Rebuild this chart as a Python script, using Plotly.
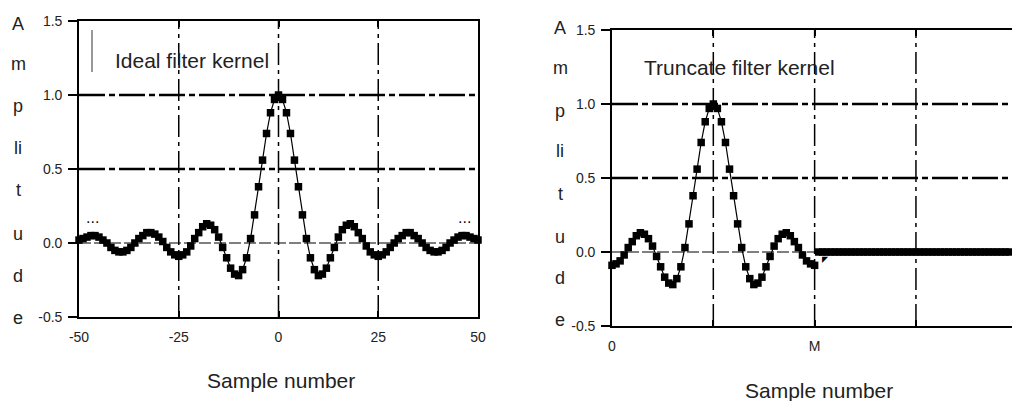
import plotly.graph_objects as go

# ---------------- data ----------------
ideal_x = list(range(-50, 51))
ideal_y = [0.02, 0.03, 0.04, 0.05, 0.05, 0.04, 0.02, 0.00, -0.03, -0.05,
           -0.06, -0.06, -0.05, -0.03, 0.00, 0.03, 0.05, 0.07, 0.07, 0.06,
           0.04, 0.01, -0.03, -0.06, -0.08, -0.09, -0.08, -0.06, -0.02, 0.03,
           0.07, 0.11, 0.13, 0.12, 0.09, 0.04, -0.03, -0.10, -0.17, -0.21,
           -0.22, -0.18, -0.10, 0.03, 0.19, 0.38, 0.56, 0.74, 0.88, 0.97,
           1.00,
           0.97, 0.88, 0.74, 0.56, 0.38, 0.19, 0.03, -0.10, -0.18, -0.22,
           -0.21, -0.17, -0.10, -0.03, 0.04, 0.09, 0.12, 0.13, 0.11, 0.07,
           0.03, -0.02, -0.06, -0.08, -0.09, -0.08, -0.06, -0.03, 0.00, 0.03,
           0.05, 0.07, 0.07, 0.05, 0.03, 0.00, -0.03, -0.05, -0.06, -0.06,
           -0.05, -0.03, 0.00, 0.02, 0.04, 0.05, 0.05, 0.04, 0.03, 0.02]

trunc_x = list(range(0, 51))
trunc_y = [-0.09, -0.08, -0.06, -0.02, 0.03, 0.07, 0.11, 0.13, 0.12, 0.09,
           0.04, -0.03, -0.10, -0.17, -0.21, -0.22, -0.18, -0.10, 0.03, 0.19,
           0.38, 0.56, 0.74, 0.88, 0.97, 1.00, 0.97, 0.88, 0.74, 0.56,
           0.38, 0.19, 0.03, -0.10, -0.18, -0.22, -0.21, -0.17, -0.10, -0.03,
           0.04, 0.09, 0.12, 0.13, 0.11, 0.07, 0.03, -0.02, -0.06, -0.08,
           -0.09]

zero_x = list(range(51, 101))
zero_y = [0, 0, 0, 0, 0, 0, 0, 0, 0, 0,
          0, 0, 0, 0, 0, 0, 0, 0, 0, 0,
          0, 0, 0, 0, 0, 0, 0, 0, 0, 0,
          0, 0, 0, 0, 0, 0, 0, 0, 0, 0,
          0, 0, 0, 0, 0, 0, 0, 0, 0, 0]

y_tickvals = [-0.5, 0.0, 0.5, 1.0, 1.5]
y_ticktext = ["-0.5", "0.0", "0.5", "1.0", "1.5"]
left_xticks = [-50, -25, 0, 25, 50]
left_xtext = ["-50", "-25", "0", "25", "50"]
right_xticks = [0, 25, 50, 75]
right_xtext = ["0", "", "M", ""]
ylabel_letters = ["A", "m", "p", "li", "t", "u", "d", "e"]

# ---------------- figure ----------------
W, H = 1012, 401
def px(x):
    return x / W
def py(y):
    return 1 - y / H

mk = dict(symbol="square", size=7.5, color="black", line=dict(width=0))
fig = go.Figure()
fig.add_trace(go.Scatter(x=ideal_x, y=ideal_y, mode="lines+markers",
                         line=dict(color="black", width=1.2), marker=mk,
                         xaxis="x", yaxis="y", cliponaxis=False))
fig.add_trace(go.Scatter(x=trunc_x, y=trunc_y, mode="lines+markers",
                         line=dict(color="black", width=1.2), marker=mk,
                         xaxis="x2", yaxis="y2", cliponaxis=False))
fig.add_trace(go.Scatter(x=zero_x, y=zero_y, mode="lines+markers",
                         line=dict(color="black", width=1), marker=mk,
                         xaxis="x2", yaxis="y2", cliponaxis=True))

tickfont = dict(family="Liberation Sans", size=14, color="#222222")
common_x = dict(ticks="inside", ticklen=6, tickwidth=1.5, tickcolor="black",
                showline=True, linewidth=1.6, linecolor="black", mirror="ticks",
                showgrid=False, zeroline=False, tickfont=tickfont,
                ticklabelstandoff=6, automargin=False)
common_y = dict(ticks="outside", ticklen=9, tickwidth=1.5, tickcolor="black",
                showline=True, linewidth=1.6, linecolor="black",
                showgrid=False, zeroline=False, tickfont=tickfont,
                range=[-0.5, 1.5], tickvals=y_tickvals, ticktext=y_ticktext,
                ticklabelstandoff=3, automargin=False)

fig.update_layout(
    width=W, height=H, margin=dict(l=0, r=0, t=0, b=0, pad=0, autoexpand=False),
    paper_bgcolor="white", plot_bgcolor="white", showlegend=False,
    xaxis=dict(domain=[px(79), px(478)], range=[-50, 50], anchor="y",
               tickvals=left_xticks, ticktext=left_xtext, **common_x),
    yaxis=dict(domain=[py(317), py(21)], anchor="x", mirror=True, **common_y),
    xaxis2=dict(domain=[px(612), 1.0], range=[0, 98.7], anchor="y2",
                tickvals=right_xticks, ticktext=right_xtext, **common_x),
    yaxis2=dict(domain=[py(326), py(30)], anchor="x2", mirror=False, **common_y),
)

thick_dd = dict(color="black", width=2.5, dash="26px,4px,6px,4px")
vert_dd = dict(color="black", width=1.5, dash="22px,5px,4px,5px")
zero_ln = dict(color="black", width=1, dash="12px,3px")

shapes = []
for xr, yr, vx in (("x", "y", [-25, 0, 25]), ("x2", "y2", [25, 50, 75])):
    for yv in (1.0, 0.5):
        shapes.append(dict(type="line", xref=xr + " domain", yref=yr, x0=0, x1=1,
                           y0=yv, y1=yv, line=thick_dd, layer="below"))
    shapes.append(dict(type="line", xref=xr + " domain", yref=yr, x0=0, x1=1,
                       y0=0, y1=0, line=zero_ln, layer="below"))
    for xv in vx:
        shapes.append(dict(type="line", xref=xr, yref=yr + " domain", x0=xv, x1=xv,
                           y0=0, y1=1, line=vert_dd, layer="below"))
# legend-like bar next to the left caption
shapes.append(dict(type="line", xref="paper", yref="paper", x0=px(92), x1=px(92),
                   y0=py(30), y1=py(72), line=dict(color="#555555", width=1.2)))
fig.update_layout(shapes=shapes)

txt = dict(family="Liberation Sans", size=21, color="#222222")
ann = [
    dict(text="Ideal filter kernel", x=px(113), y=py(61), xanchor="left", yanchor="middle"),
    dict(text="Truncate filter kernel", x=px(642), y=py(67), xanchor="left", yanchor="middle"),
    dict(text="Sample number", x=px(281), y=py(380), xanchor="center", yanchor="middle"),
    dict(text="Sample number", x=px(819), y=py(390), xanchor="center", yanchor="middle"),
]
for a in ann:
    a.update(xref="paper", yref="paper", showarrow=False, font=txt)

left_letter_y = [24, 64, 106, 148, 190, 234, 276, 318]
right_letter_y = [28, 68, 111, 151, 194, 237, 278, 320]
for ch, yl, yr in zip(ylabel_letters, left_letter_y, right_letter_y):
    ann.append(dict(text=ch, x=px(18), y=py(yl), xref="paper", yref="paper",
                    showarrow=False, xanchor="center", yanchor="middle",
                    font=dict(family="Liberation Sans", size=18, color="#222222")))
    ann.append(dict(text=ch, x=px(560), y=py(yr), xref="paper", yref="paper",
                    showarrow=False, xanchor="center", yanchor="middle",
                    font=dict(family="Liberation Sans", size=18, color="#222222")))

# small continuation marks
ann.append(dict(text="···", x=-46.5, y=0.14, xref="x", yref="y", showarrow=False,
                font=dict(family="DejaVu Sans", size=14, color="black")))
ann.append(dict(text="···", x=46.5, y=0.14, xref="x", yref="y", showarrow=False,
                font=dict(family="DejaVu Sans", size=14, color="black")))
ann.append(dict(text="◤", x=52.8, y=-0.05, xref="x2", yref="y2", showarrow=False,
                font=dict(family="DejaVu Sans", size=8, color="black")))
fig.update_layout(annotations=ann)

fig.write_html("out.html", config={"displayModeBar": False},
               post_script="document.body.style.margin='0';document.body.style.overflow='hidden';")
